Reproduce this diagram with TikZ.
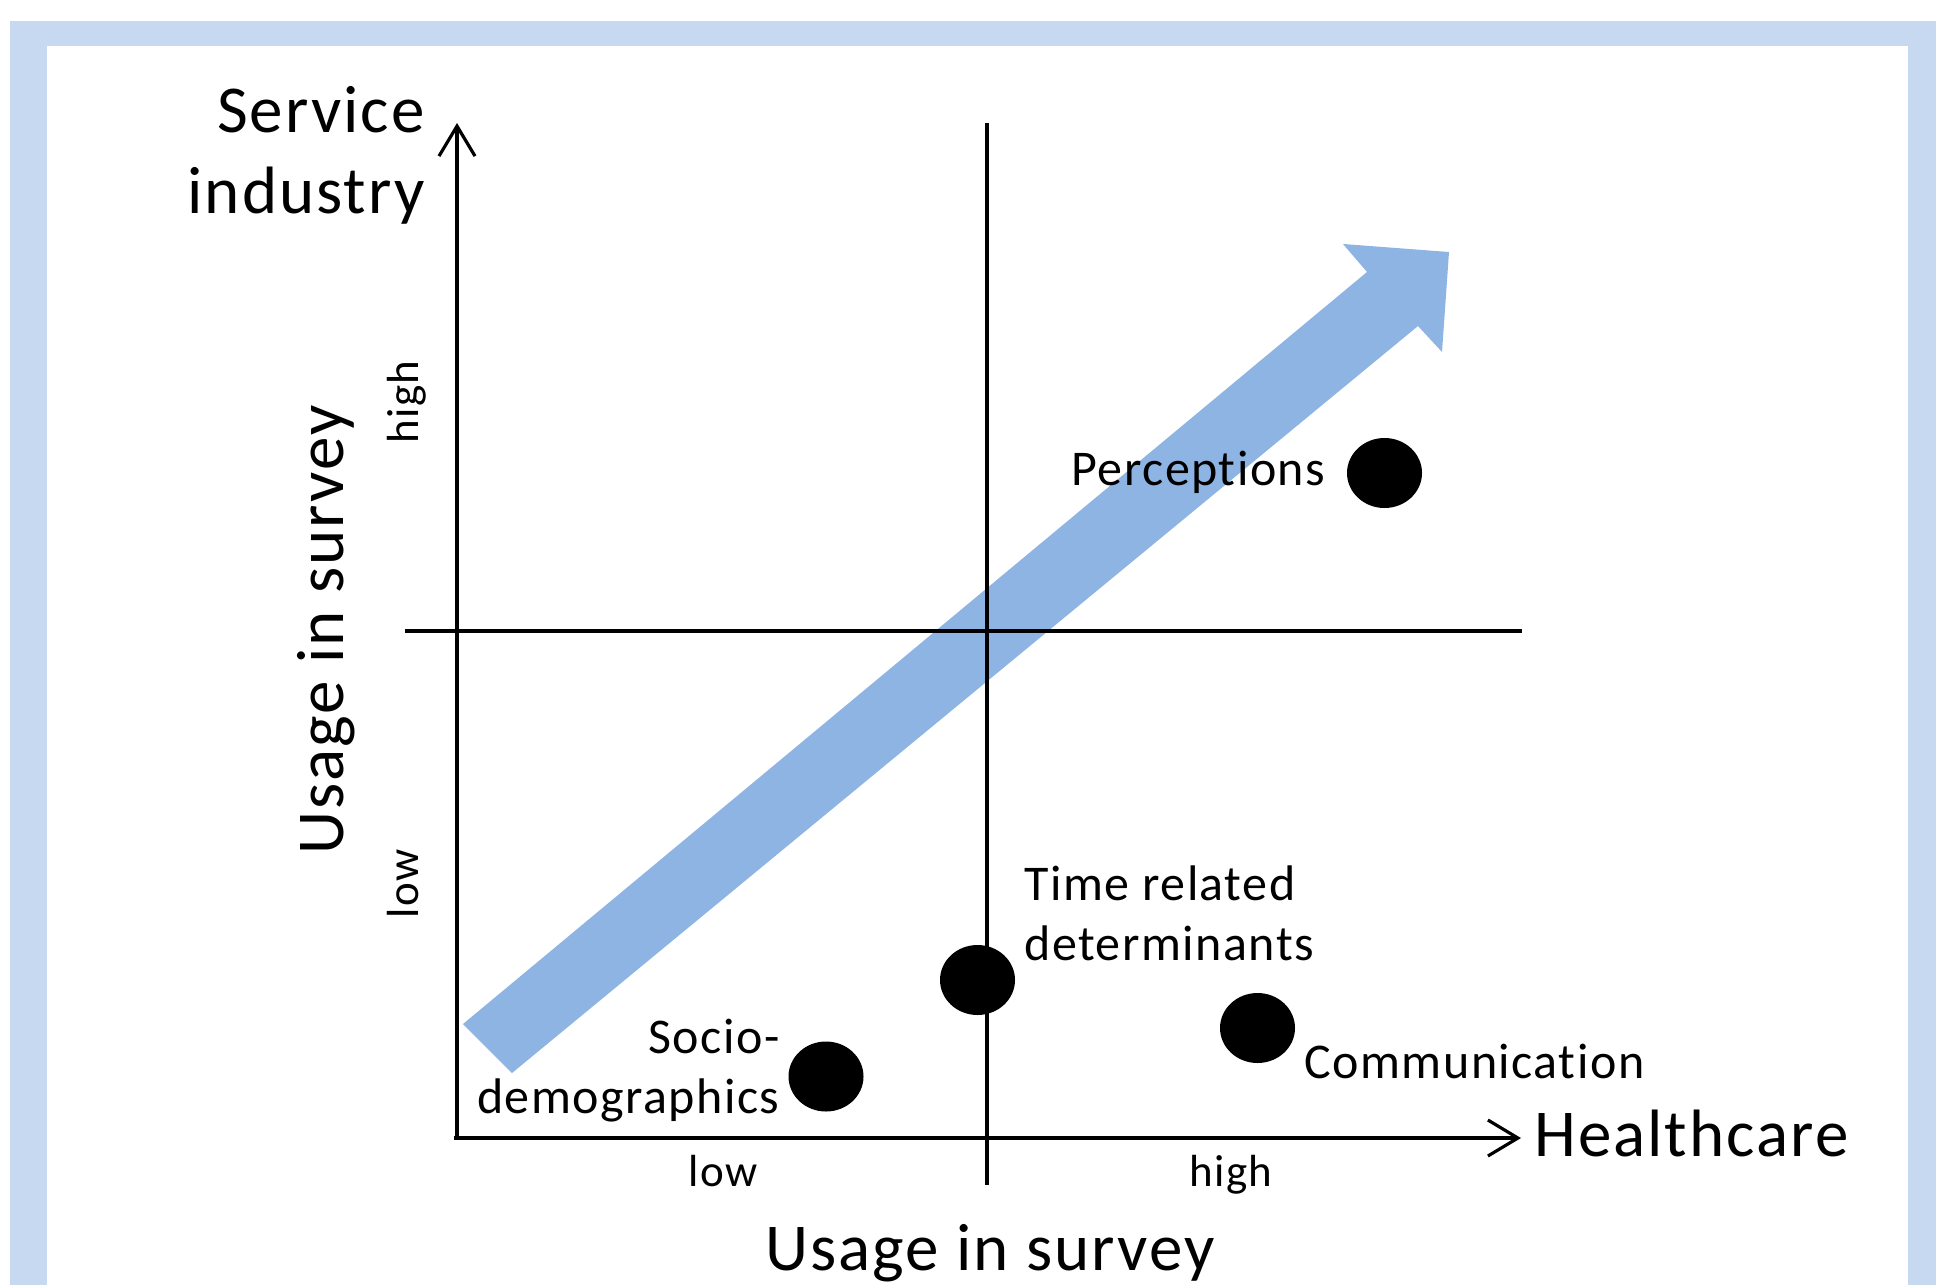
\documentclass[tikz,border=0pt]{standalone}
\usepackage{fontspec}
\setmainfont{Carlito}[Ligatures=NoCommon, LetterSpace=3]
\usetikzlibrary{arrows.meta,shapes.geometric}
\definecolor{framebl}{RGB}{198,217,240}
\definecolor{trendbl}{RGB}{142,180,227}

\begin{document}
\begin{tikzpicture}[x=0.5pt,y=-0.5pt,
  axis/.style={line width=1.6pt, draw=black},
  axisarrow/.style={axis, -{Straight Barb[length=15pt,width=18pt]}},
  dot/.style={ellipse, fill=black, inner sep=0pt, minimum width=37.5pt, minimum height=35pt},
  big/.style={inner sep=0pt, font=\fontsize{33.5}{40.5}\selectfont},
  mid/.style={inner sep=0pt, font=\fontsize{25}{30}\selectfont},
  small/.style={inner sep=0pt, font=\fontsize{22.5}{27}\selectfont},
]
\useasboundingbox (0,0) rectangle (1936,1285);

% slide frame
\fill[framebl] (10,21) rectangle (1936,1285);
\fill[white] (47,46) rectangle (1908,1285);

% trend arrow
\fill[trendbl] (463,1024) -- (1367,272) -- (1343,244) -- (1449,252)
  -- (1442,352) -- (1418,326) -- (512,1073) -- cycle;

% axes and quadrant lines
\coordinate (o) at (457,1138);
\coordinate (xs) at (454,1138);
\coordinate (xe) at (1521,1138);
\coordinate (ye) at (457,123);
\coordinate (mvt) at (987,123);
\coordinate (mvb) at (987,1185);
\coordinate (mhl) at (405,631);
\coordinate (mhr) at (1522,631);
\draw[axisarrow] (xs) -- (xe);
\draw[axisarrow] (o) -- (ye);
\draw[axis] (mvt) -- (mvb);
\draw[axis] (mhl) -- (mhr);

% axis titles
\node[big, anchor=base west] (hc) at (1534,1156) {Healthcare};
\node[big, anchor=base east, align=right] (si) at (425,213) {Service\\industry};
\node[big, anchor=base] (ux) at (990,1270) {Usage in survey};
\node[big, anchor=base, rotate=90] (uy) at (343,630) {Usage in survey};
\node[small, anchor=base] (xlo) at (723,1186) {low};
\node[small, anchor=base] (xhi) at (1231,1186) {high};
\node[small, anchor=base, rotate=90] (ylo) at (418,884) {low};
\node[small, anchor=base, rotate=90] (yhi) at (418,402) {high};

% topics
\node[dot] (dper) at (1384.5,473) {};
\node[dot] (dtim) at (977.5,980) {};
\node[dot] (dcom) at (1257.5,1028) {};
\node[dot] (dsoc) at (826,1076.5) {};

\node[mid, anchor=base west] (lper) at (1071,485) {Perceptions};
\node[mid, anchor=base west, align=left] (ltim) at (1024,960) {Time related\\determinants};
\node[mid, anchor=base west] (lcom) at (1304,1078) {Communication};
\node[mid, anchor=base east, align=right] (lsoc) at (780,1113) {Socio-\\demographics};
\end{tikzpicture}
\end{document}
